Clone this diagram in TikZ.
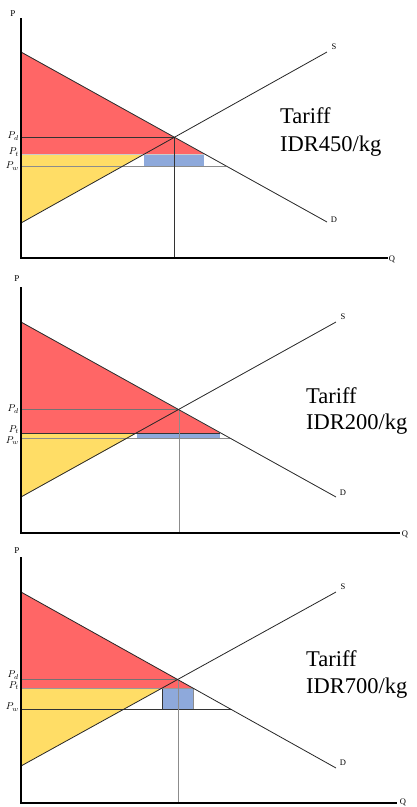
\documentclass[tikz,border=0pt]{standalone}
\usepackage{fontspec}
\setmainfont{Liberation Serif}
\begin{document}
\begin{tikzpicture}[x=1pt,y=-1pt,
  axis/.style={line width=1.3pt,black},
  curve/.style={line width=0.8pt,black!85},
  guide/.style={line width=0.7pt,black!80},
  lguide/.style={line width=0.7pt,black!45},
  redfill/.style={fill={rgb,255:red,255;green,102;blue,102}},
  yelfill/.style={fill={rgb,255:red,255;green,221;blue,102}},
  bluefill/.style={fill={rgb,255:red,142;green,169;blue,219}},
  small/.style={font=\fontsize{8.5}{9}\selectfont,inner sep=0pt},
  plab/.style={font=\fontsize{10}{11}\selectfont,inner sep=0pt,anchor=east},
  tar/.style={font=\fontsize{22.5}{26}\selectfont,inner sep=0pt,anchor=base west}]
\useasboundingbox (0,0) rectangle (417,807);
\fill[white] (0,0) rectangle (417,807);

% ---------- Panel 1 ----------
\coordinate (a1top) at (21,18);
\coordinate (a1o) at (21,258);
\coordinate (a1x) at (388,258);
\coordinate (d1a) at (21,52);
\coordinate (d1b) at (327,222);
\coordinate (s1a) at (21,223);
\coordinate (s1b) at (327,52);
\coordinate (e1) at (174,137);
\fill[redfill] (d1a) -- (204,154) -- (21,154) -- cycle;
\fill[yelfill] (21,154) -- (144,154) -- (s1a) -- cycle;
\fill[bluefill] (144,154) rectangle (204,166);
\draw[line width=0.7pt,black!20] (21,154) -- (204,154);
\draw[lguide] (21,166) -- (226,166);
\draw[guide] (21,137) -- (e1);
\draw[guide] (e1) -- (174,258);
\draw[curve] (d1a) -- (d1b);
\draw[curve] (s1a) -- (s1b);
\draw[axis] (a1top) -- (a1o) -- (a1x);
\node[small,font=\fontsize{9}{10}\selectfont] (p1) at (13,14) {P};
\node[small] (q1) at (392,259) {Q};
\node[small] (s1) at (334,47) {S};
\node[small] (dl1) at (334,220) {D};
\node[plab] (pd1) at (19,136) {$P_d$};
\node[plab] (pt1) at (19,152) {$P_t$};
\node[plab] (pw1) at (19,166) {$P_w$};
\node[tar] (t1a) at (280,123) {Tariff};
\node[tar] (t1b) at (280,151) {IDR450/kg};

% ---------- Panel 2 ----------
\coordinate (a2top) at (21,287);
\coordinate (a2o) at (21,533);
\coordinate (a2x) at (400,533);
\coordinate (d2a) at (21,322);
\coordinate (d2b) at (336,497);
\coordinate (s2a) at (21,497);
\coordinate (s2b) at (336,322);
\coordinate (e2) at (179,409.5);
\fill[redfill] (d2a) -- (220,433) -- (21,433) -- cycle;
\fill[yelfill] (21,433) -- (137,433) -- (s2a) -- cycle;
\fill[bluefill] (137,433) rectangle (220,438);
\draw[lguide] (21,438) -- (230,438);
\draw[guide] (21,433) -- (220,433);
\draw[guide,black!55] (21,409.5) -- (e2);
\draw[lguide] (e2) -- (179,533);
\draw[curve] (d2a) -- (d2b);
\draw[curve] (s2a) -- (s2b);
\draw[axis] (a2top) -- (a2o) -- (a2x);
\node[small,font=\fontsize{9}{10}\selectfont] (p2) at (17,279) {P};
\node[small] (q2) at (405,534) {Q};
\node[small] (s2) at (343,317) {S};
\node[small] (dl2) at (343,493) {D};
\node[plab] (pd2) at (19,409) {$P_d$};
\node[plab] (pt2) at (19,429.5) {$P_t$};
\node[plab] (pw2) at (19,440.5) {$P_w$};
\node[tar] (t2a) at (306,403) {Tariff};
\node[tar] (t2b) at (306,429) {IDR200/kg};

% ---------- Panel 3 ----------
\coordinate (a3top) at (21,557);
\coordinate (a3o) at (21,803);
\coordinate (a3x) at (397,803);
\coordinate (d3a) at (21,592);
\coordinate (d3b) at (336,768);
\coordinate (s3a) at (21,766);
\coordinate (s3b) at (336,592);
\coordinate (e3) at (178,679.5);
\fill[redfill] (d3a) -- (193,688) -- (21,688) -- cycle;
\fill[yelfill] (21,688) -- (162,688) -- (s3a) -- cycle;
\fill[bluefill] (162,688) rectangle (193,709);
\draw[line width=0.7pt,black!80] (162,688) -- (162,709);
\draw[lguide] (193,688) -- (193,709);
\draw[line width=0.7pt,black!40] (21,688) -- (193,688);
\draw[guide] (21,709) -- (232,709);
\draw[guide,black!55] (21,679.5) -- (e3);
\draw[lguide] (e3) -- (178,803);
\draw[curve] (d3a) -- (d3b);
\draw[curve] (s3a) -- (s3b);
\draw[axis] (a3top) -- (a3o) -- (a3x);
\node[small,font=\fontsize{9}{10}\selectfont] (p3) at (17,551) {P};
\node[small] (q3) at (403,802.5) {Q};
\node[small] (s3) at (343,587) {S};
\node[small] (dl3) at (343,763) {D};
\node[plab] (pd3) at (19,675) {$P_d$};
\node[plab] (pt3) at (19,685.5) {$P_t$};
\node[plab] (pw3) at (19,707) {$P_w$};
\node[tar] (t3a) at (306,666) {Tariff};
\node[tar] (t3b) at (306,693) {IDR700/kg};
\end{tikzpicture}
\end{document}
